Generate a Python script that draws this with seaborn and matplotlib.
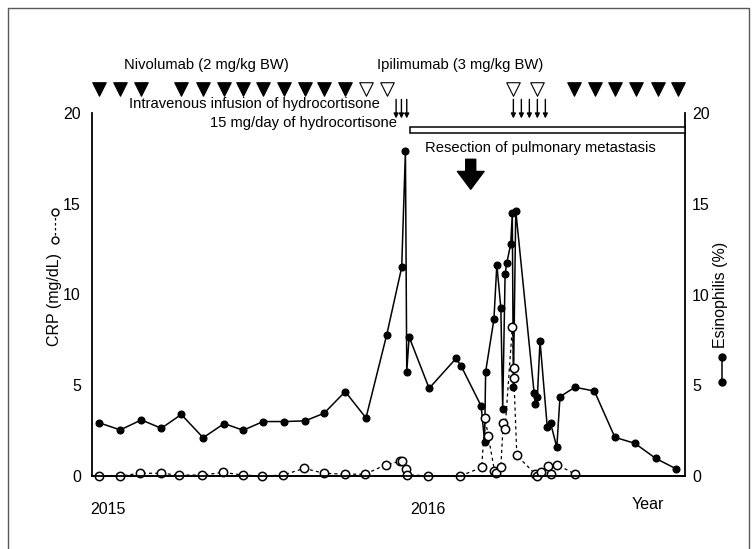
import numpy as np
import pandas as pd
import seaborn as sns
import matplotlib.pyplot as plt
from matplotlib.patches import Rectangle
import matplotlib.lines as mlines

# time axis: months since 1 Jan 2015
eos_month = [-0.34, 0.45, 1.24, 1.99, 2.74, 3.56, 4.35, 5.06, 5.81, 6.60, 7.39, 8.10, 8.89, 9.67,
             10.45, 11.01, 11.15, 11.20, 11.29, 12.04, 13.05, 13.24, 13.99, 14.12, 14.16, 14.47,
             14.58, 14.73, 14.80, 14.89, 14.95, 15.10, 15.16, 15.20, 15.29, 15.98, 16.02, 16.10,
             16.20, 16.47, 16.60, 16.83, 16.95, 17.51, 18.24, 19.01, 19.76, 20.54, 21.30]
eos_pct = [2.93, 2.54, 3.09, 2.63, 3.39, 2.11, 2.89, 2.52, 3.0, 3.0, 3.04, 3.46, 4.65, 3.2,
           7.79, 11.5, 17.9, 5.75, 7.66, 4.83, 6.48, 6.06, 3.86, 1.89, 5.75, 8.63,
           11.63, 9.27, 3.69, 11.11, 11.72, 12.77, 14.47, 4.89, 14.62, 4.56, 3.95, 4.34,
           7.44, 2.72, 2.90, 1.58, 4.37, 4.89, 4.68, 2.13, 1.80, 0.97, 0.40]

crp_month = [-0.34, 0.45, 1.20, 1.99, 2.66, 3.53, 4.31, 5.06, 5.78, 6.56, 7.35, 8.10, 8.89, 9.64,
             10.41, 10.95, 11.01, 11.18, 11.22, 11.99, 13.20, 14.01, 14.14, 14.26, 14.49, 14.55,
             14.73, 14.82, 14.89, 15.16, 15.22, 15.22, 15.33, 16.01, 16.10, 16.23, 16.51, 16.61,
             16.85, 17.51]
crp_mg = [0.0, 0.0, 0.15, 0.15, 0.05, 0.05, 0.2, 0.05, 0.0, 0.05, 0.42, 0.15, 0.1, 0.1,
          0.62, 0.8, 0.8, 0.38, 0.08, 0.0, 0.0, 0.47, 3.19, 2.18, 0.3, 0.17,
          0.5, 2.93, 2.6, 8.2, 5.97, 5.38, 1.13, 0.13, 0.0, 0.2, 0.53, 0.13,
          0.63, 0.1]

nivo_doses = [-0.34, 0.45, 1.24, 2.74, 3.56, 4.35, 5.06, 5.81, 6.60, 7.39, 8.10, 8.89,
              17.46, 18.25, 19.03, 19.82, 20.61, 21.39]
ipi_doses = [9.67, 10.45, 15.19, 16.07]
iv_hydrocortisone = [10.8, 11.0, 11.2, 15.2, 15.5, 15.8, 16.1, 16.4]
oral_hydrocortisone_start = 11.33
resection = 13.6
year_ticks = [0, 12]
year_labels = ['2015', '2016']

sns.set_style('white')
plt.rcParams['font.family'] = ['Liberation Sans', 'DejaVu Sans']
plt.rcParams['font.size'] = 10.6
for key in ('text.color', 'axes.labelcolor', 'xtick.color', 'ytick.color'):
    plt.rcParams[key] = 'black'

W, H = 756, 549
fig = plt.figure(figsize=(W / 100, H / 100), dpi=100)
ax = fig.add_axes([92 / W, 73 / H, 593 / W, 363 / H])
ax2 = ax.twinx()
ax.set_zorder(ax2.get_zorder() + 1)
ax.patch.set_visible(False)

eos = pd.DataFrame({'month': eos_month, 'eos': eos_pct})
crp = pd.DataFrame({'month': crp_month, 'crp': crp_mg})

sns.lineplot(data=eos, x='month', y='eos', sort=False, estimator=None, ax=ax2,
             color='black', lw=1.1, marker='o', markersize=5,
             markeredgecolor='black', markeredgewidth=0.8, clip_on=False)
sns.lineplot(data=crp, x='month', y='crp', sort=False, estimator=None, ax=ax,
             color='black', lw=0.9, linestyle=(0, (2.5, 2.5)), marker='o', markersize=6,
             markerfacecolor='white', markeredgecolor='black', markeredgewidth=1.1,
             clip_on=False)

xmin, xmax = -0.61, 21.64
for a in (ax, ax2):
    a.set_xlim(xmin, xmax)
    a.set_ylim(0, 20)
    a.set_yticks([0, 5, 10, 15, 20])
    a.tick_params(length=0, labelsize=11.5)
    a.spines['top'].set_visible(False)
    for s in a.spines.values():
        s.set_linewidth(1.3)
        s.set_color('black')
ax.spines['right'].set_visible(False)
ax2.spines['left'].set_visible(False)
ax.tick_params(axis='y', pad=8)
ax2.tick_params(axis='y', pad=5)
ax.set_xticks(year_ticks, year_labels)
ax.tick_params(axis='x', pad=19)

ax.set_ylabel('CRP (mg/dL)', fontsize=11.5)
ax.yaxis.set_label_coords(-0.05, 0.485)
ax2.set_ylabel('Esinophilis (%)', fontsize=11.5)
ax2.yaxis.set_label_coords(1.047, 0.5)
ax.set_xlabel('Year', fontsize=11.5)
ax.xaxis.set_label_coords(0.9376, -0.058)

# symbol keys next to the axis titles
fig.add_artist(mlines.Line2D([55 / W, 55 / W], [1 - 240 / H, 1 - 212 / H], transform=fig.transFigure,
                             color='black', lw=0.9, ls=(0, (2, 2)), marker='o', markersize=5,
                             markerfacecolor='white', markeredgecolor='black'))
fig.add_artist(mlines.Line2D([722 / W, 722 / W], [1 - 382 / H, 1 - 357 / H], transform=fig.transFigure,
                             color='black', lw=1.1, marker='o', markersize=5))

# treatment schedule above the plot
tri_y = 21.3
sns.scatterplot(x=nivo_doses, y=[tri_y] * len(nivo_doses), marker='v', s=95, color='black',
                edgecolor='black', linewidth=0.8, ax=ax, clip_on=False, legend=False)
sns.scatterplot(x=ipi_doses, y=[tri_y] * len(ipi_doses), marker='v', s=95, color='white',
                edgecolor='black', linewidth=0.8, ax=ax, clip_on=False, legend=False)
ax.text(3.67, 22.65, 'Nivolumab (2 mg/kg BW)', ha='center', va='center')
ax.text(13.2, 22.65, 'Ipilimumab (3 mg/kg BW)', ha='center', va='center')

for m in iv_hydrocortisone:
    ax.annotate('', xy=(m, 19.7), xytext=(m, 20.75), annotation_clip=False,
                arrowprops=dict(arrowstyle='-|>', color='black', lw=1, mutation_scale=7,
                                shrinkA=0, shrinkB=0))
ax.text(10.2, 20.5, 'Intravenous infusion of hydrocortisone', ha='right', va='center')
ax.text(10.84, 19.45, '15 mg/day of hydrocortisone', ha='right', va='center')
ax.add_patch(Rectangle((oral_hydrocortisone_start, 18.88), xmax - oral_hydrocortisone_start, 0.36,
                       facecolor='white', edgecolor='black', lw=1.1, clip_on=False, zorder=3))

ax.text(16.2, 18.05, 'Resection of pulmonary metastasis', ha='center', va='center')
ax.annotate('', xy=(resection, 15.8), xytext=(resection, 17.45), annotation_clip=False,
            arrowprops=dict(arrowstyle='simple,head_length=0.8,head_width=1.2,tail_width=0.45',
                            fc='black', ec='black', mutation_scale=16, shrinkA=0, shrinkB=0))

# outer frame
fig.add_artist(mlines.Line2D([8 / W, 8 / W, 749 / W, 749 / W], [0, 1 - 8 / H, 1 - 8 / H, 0],
                             transform=fig.transFigure, color='0.35', lw=1))

fig.savefig('out.png', dpi=100)
